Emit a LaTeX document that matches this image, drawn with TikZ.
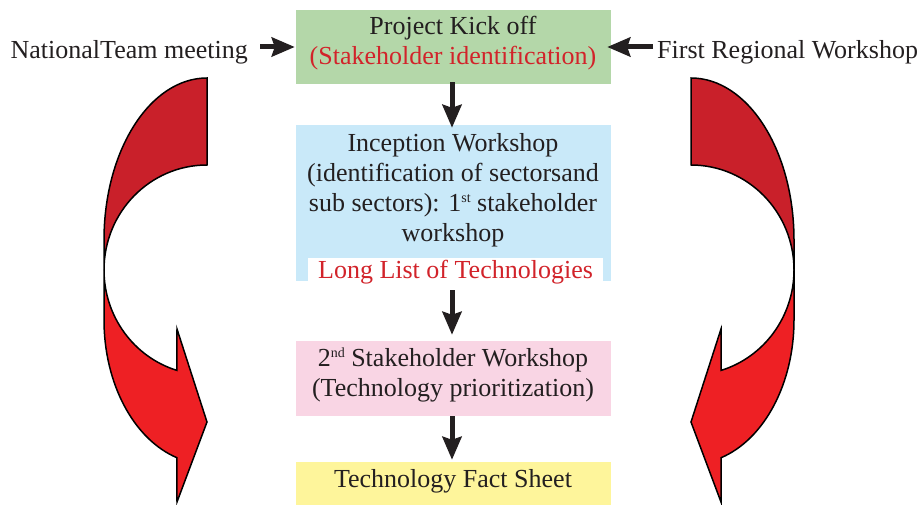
\documentclass[tikz,border=0pt]{standalone}
\usepackage{fontspec}
\setmainfont{Liberation Serif}
\usetikzlibrary{arrows.meta,calc}
\definecolor{ink}{HTML}{231F20}
\definecolor{redtxt}{HTML}{D2232A}
\definecolor{boxgreen}{HTML}{B4D7A9}
\definecolor{boxblue}{HTML}{C9E9F9}
\definecolor{boxpink}{HTML}{F9D5E4}
\definecolor{boxyellow}{HTML}{FEF59B}
\definecolor{ribdark}{HTML}{C9202A}
\definecolor{ribbright}{HTML}{EE2024}
\newcommand\supx[1]{\raisebox{9pt}{\fontsize{14pt}{14pt}\selectfont #1}}
\newcommand\redribbon{%
  \filldraw[ribbon, fill=ribdark] (207,426)
    arc[start angle=90, end angle=180, x radius=103pt, y radius=162pt]
    -- (104,234)
    arc[start angle=180, end angle=90, x radius=103pt, y radius=105pt]
    -- cycle;
  \filldraw[ribbon, fill=ribbright] (104,234) -- (104,184)
    arc[start angle=180, end angle=253, x radius=103pt, y radius=144pt]
    -- (177,2) -- (207,82) -- (177,175)
    -- ($(207,234)+(253:103pt and 105pt)$)
    arc[start angle=253, end angle=180, x radius=103pt, y radius=105pt]
    -- cycle;
}
\begin{document}
\begin{tikzpicture}[x=1pt,y=1pt,
  box/.style={rectangle, inner sep=0pt, draw=none, minimum width=315pt},
  txt/.style={font=\fontsize{26pt}{30pt}\selectfont, text=ink, align=center, inner sep=0pt},
  conn/.style={line width=5pt, draw=ink, -{Stealth[length=23pt,width=19pt,inset=3pt]}},
  ribbon/.style={draw=black, line width=1.5pt}]
\useasboundingbox (0,0) rectangle (924,504);

% red twisted arrows
\redribbon
\begin{scope}[shift={(898pt,0pt)}, xscale=-1]
  \redribbon
\end{scope}

% boxes
\node[box, fill=boxgreen, minimum height=74pt] (green) at (453.5,457) {};
\node[box, fill=boxblue, minimum height=156pt] (blue) at (453.5,301) {};
\node[box, fill=white, minimum width=295pt, minimum height=29pt,
      font=\fontsize{26pt}{30pt}\selectfont, text=redtxt] (longlist) at (455.5,231.5) {Long List of Technologies};
\node[box, fill=boxpink, minimum height=75pt] (pink) at (453.5,125.5) {};
\node[box, fill=boxyellow, minimum height=44pt] (yellow) at (453.5,20) {};

% texts (base anchor = baseline of the last line)
\node[txt, anchor=base] (kicktxt) at (453,439) {Project Kick off\\\textcolor{redtxt}{(Stakeholder identification)}};
\node[txt, anchor=base] (inctxt) at (453,262) {Inception Workshop\\(identification of sectorsand\\sub sectors): 1\supx{st} stakeholder\\workshop};
\node[txt, anchor=base] (p2txt) at (453,108) {2\supx{nd} Stakeholder Workshop\\(Technology prioritization)};
\node[txt, anchor=base] (facttxt) at (453,17) {Technology Fact Sheet};
\node[txt, anchor=base east] (natl) at (248,445) {NationalTeam meeting};
\node[txt, anchor=base west] (reg) at (657,445) {First Regional Workshop};

% connectors
\draw[conn, shorten <=-2pt, shorten >=-3pt] ([xshift=-1.5pt]green.south) -- ([xshift=-1.5pt]blue.north);
\draw[conn, shorten <=3pt, shorten >=6pt] ([xshift=-3.5pt]longlist.south) -- ([xshift=-1.5pt]pink.north);
\draw[conn, shorten >=2pt] ([xshift=-1.5pt]pink.south) -- ([xshift=-1.5pt]yellow.north);
\draw[conn] ([xshift=12pt]natl.east |- green.west) -- ([xshift=-1pt]green.west);
\draw[conn] ([xshift=-4pt]reg.west |- green.east) -- ([xshift=-4pt]green.east);
\end{tikzpicture}
\end{document}
